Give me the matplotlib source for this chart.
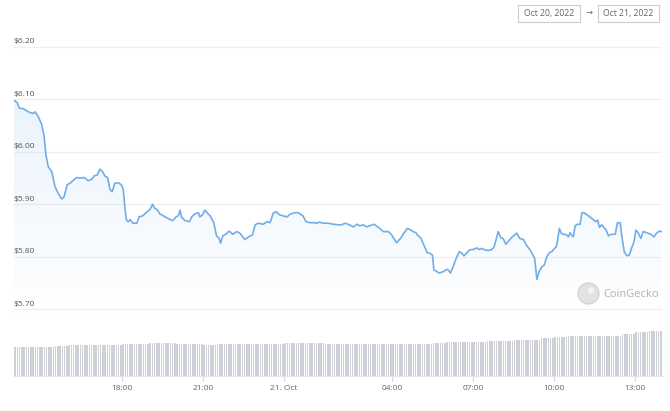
import numpy as np
import matplotlib
matplotlib.use('Agg')
import matplotlib.pyplot as plt
import matplotlib.dates as mdates
from matplotlib.patches import Rectangle, Circle
from matplotlib.transforms import IdentityTransform
from datetime import datetime, timedelta

plt.rcParams['font.family'] = ['Open Sans', 'DejaVu Sans']

start = datetime(2022, 10, 20, 14, 0)

# minutes after 14:00 Oct 20, price in USD
t_min = [0, 7, 12, 21, 32, 42, 47, 54, 62, 67, 71, 76, 84, 91, 98, 106, 111, 118, 124, 132,
         139, 147, 156, 165, 173, 178, 185, 191, 197, 202, 208, 213, 218, 224, 232, 239,
         243, 247, 250, 254, 258, 264, 273, 278, 286, 293, 302, 308, 313, 318, 324, 336, 347, 353,
         360, 365, 369, 372, 380, 390, 395, 402, 410, 413, 419, 424, 430, 436, 444, 450, 456, 459,
         464, 471, 478, 486, 495, 502, 513, 521,
         530, 536, 543, 554, 562, 569, 576, 582, 590, 598, 607, 613, 624, 632, 642, 649, 658, 667,
         673, 678, 687, 698, 710, 721, 728, 736, 745, 754, 762, 769, 776, 784, 790, 800, 810,
         821, 832, 839, 850, 859, 867, 874, 880, 887, 893, 898, 904, 911, 918, 924, 930, 933, 938,
         945, 954, 962, 965, 970, 976, 984, 990, 995, 1000, 1007, 1012, 1021, 1028, 1034, 1039,
         1047, 1054, 1062, 1067, 1071, 1076, 1082, 1087, 1093, 1098, 1104, 1110, 1117,
         1124, 1132, 1139, 1147, 1154, 1157, 1162, 1167, 1173, 1178, 1184, 1190, 1195, 1199, 1205,
         1208, 1212, 1216, 1221, 1228, 1232, 1236, 1239, 1243, 1247, 1252, 1258, 1262, 1267, 1273,
         1280, 1287, 1293, 1297, 1301, 1306, 1311, 1316, 1321, 1328, 1336, 1341, 1347, 1351, 1356,
         1362, 1367, 1373, 1378, 1382, 1387, 1393, 1398, 1406, 1415, 1422, 1428, 1434, 1439]

price = [6.098, 6.094, 6.083, 6.082, 6.076, 6.073, 6.076, 6.067, 6.051, 6.029, 5.994, 5.972,
         5.962, 5.934, 5.921, 5.910, 5.914, 5.937, 5.940, 5.946, 5.951, 5.950, 5.951, 5.945,
         5.948, 5.954, 5.956, 5.967, 5.962, 5.954, 5.951, 5.929, 5.924, 5.940, 5.941, 5.937,
         5.927, 5.889, 5.870, 5.867, 5.871, 5.864, 5.864, 5.876, 5.878, 5.884, 5.890, 5.900,
         5.892, 5.890, 5.882, 5.876, 5.871, 5.869, 5.876, 5.878, 5.889, 5.876, 5.869, 5.867,
         5.876, 5.882, 5.884, 5.876, 5.880, 5.889, 5.883, 5.878, 5.865, 5.840, 5.835, 5.826,
         5.840, 5.843, 5.849, 5.843, 5.848, 5.845, 5.833, 5.838,
         5.842, 5.861, 5.864, 5.862, 5.867, 5.865, 5.883, 5.886, 5.880, 5.878, 5.876, 5.881,
         5.884, 5.884, 5.878, 5.867, 5.865, 5.865, 5.864, 5.866, 5.864, 5.864, 5.862, 5.861,
         5.861, 5.864, 5.861, 5.857, 5.862, 5.859, 5.861, 5.857, 5.859, 5.862, 5.856,
         5.848, 5.848, 5.842, 5.827, 5.835, 5.846, 5.854, 5.852, 5.848, 5.846, 5.840, 5.836,
         5.822, 5.808, 5.807, 5.803, 5.775, 5.773, 5.769, 5.772, 5.776, 5.775, 5.769, 5.782,
         5.800, 5.810, 5.807, 5.802, 5.808, 5.813, 5.814, 5.817, 5.814, 5.816, 5.813, 5.812,
         5.814, 5.819, 5.832, 5.848, 5.836, 5.835, 5.824, 5.829, 5.835, 5.840, 5.845,
         5.835, 5.833, 5.822, 5.813, 5.802, 5.797, 5.757, 5.772, 5.781, 5.784, 5.800, 5.808,
         5.810, 5.814, 5.819, 5.832, 5.854, 5.845, 5.843, 5.842, 5.838, 5.846, 5.842, 5.838,
         5.859, 5.862, 5.862, 5.884, 5.884, 5.880, 5.876, 5.871, 5.867, 5.870, 5.856, 5.861,
         5.856, 5.851, 5.840, 5.843, 5.843, 5.865, 5.865, 5.838, 5.810, 5.802, 5.803, 5.818,
         5.829, 5.851, 5.846, 5.835, 5.848, 5.846, 5.843, 5.838, 5.845, 5.849, 5.848]

# volume read per half hour (relative units), each shown as six 5-minute bars
vol_half_hour = [29, 29, 29.5, 30, 31, 31.3, 31.3, 31.3, 31.8, 32.3, 32.6, 32.6,
                 32, 32, 31.5, 32.5, 32, 32, 32, 32, 32.6, 32.6, 32.6, 32,
                 32, 32, 32, 32, 32, 32, 32, 33, 34.5, 34.5, 34.5, 35.5,
                 35.5, 36.5, 36.5, 38.5, 39, 40.3, 40.3, 40.3, 40.3, 42, 44.5, 45]

y_ticks = [5.70, 5.80, 5.90, 6.00, 6.10, 6.20]
x_ticks = ['2022-10-20 18:00', '2022-10-20 21:00', '2022-10-21 00:00',
           '2022-10-21 04:00', '2022-10-21 07:00', '2022-10-21 10:00', '2022-10-21 13:00']
x_labels = ['18:00', '21:00', '21. Oct', '04:00', '07:00', '10:00', '13:00']

times = [start + timedelta(minutes=m) for m in t_min]
bar_times = [start + timedelta(minutes=5 * k + 2.5) for k in range(288)]
bar_vol = np.repeat(vol_half_hour, 6)
x0, x1 = mdates.date2num(start), mdates.date2num(start + timedelta(hours=24))

fig = plt.figure(figsize=(6.7, 4.11), dpi=100)
box = [14 / 670, 35 / 411, 648 / 670, 346 / 411]

axv = fig.add_axes(box)
axv.bar(bar_times, bar_vol, width=5 / 1440 * 0.72, color='#cdd1d7', linewidth=0)
axv.set_xlim(x0, x1)
axv.set_ylim(0, 346)
axv.axis('off')

ax = fig.add_axes(box)
ax.patch.set_alpha(0)
ax.set_xlim(x0, x1)
ax.set_ylim(5.573, 6.232)

for v in y_ticks:
    ax.axhline(v, color='#efefef', lw=0.8, zorder=0)
    ax.annotate(f'${v:.2f}', xy=(0, v), xycoords=('axes fraction', 'data'),
                xytext=(0, 1.2), textcoords='offset points', ha='left', va='bottom',
                fontsize=6, color='#555555')

base = 5.68
poly = ax.fill_between(times, price, base, color='none', lw=0)
grad = np.zeros((256, 1, 4))
grad[:, 0, 0] = 124 / 255
grad[:, 0, 1] = 181 / 255
grad[:, 0, 2] = 236 / 255
grad[:, 0, 3] = np.linspace(0.16, 0.0, 256)
img = ax.imshow(grad, aspect='auto', extent=[x0, x1, base, max(price)], origin='upper', zorder=1)
img.set_clip_path(poly.get_paths()[0], transform=ax.transData)
ax.set_xlim(x0, x1)
ax.set_ylim(5.573, 6.232)

ax.plot(times, price, color='#72ade8', lw=1.2, zorder=3)

ax.set_xticks([mdates.date2num(datetime.strptime(s, '%Y-%m-%d %H:%M')) for s in x_ticks])
ax.set_xticklabels(x_labels)
ax.tick_params(axis='x', length=3.8, width=0.8, color='#ccd6eb', labelsize=6,
               labelcolor='#666666', pad=3)
ax.tick_params(axis='y', left=False, labelleft=False)
for s in ['top', 'right', 'left']:
    ax.spines[s].set_visible(False)
ax.spines['bottom'].set_color('#e6e6e6')
ax.spines['bottom'].set_linewidth(0.8)

# date range boxes
H = 411
ident = IdentityTransform()
fig.patches.append(Rectangle((518, H - 22), 62, 17, transform=ident, fill=False,
                             edgecolor='#cccccc', lw=0.8))
fig.patches.append(Rectangle((598, H - 22), 61, 17, transform=ident, fill=False,
                             edgecolor='#cccccc', lw=0.8))
fig.text(549 / 670, 1 - 13.5 / H, 'Oct 20, 2022', ha='center', va='center', fontsize=6.2, color='#666666')
fig.text(589 / 670, 1 - 13.5 / H, '→', ha='center', va='center', fontsize=6, color='#666666')
fig.text(628.5 / 670, 1 - 13.5 / H, 'Oct 21, 2022', ha='center', va='center', fontsize=6.2, color='#666666')

# CoinGecko watermark
fig.patches.append(Circle((588.5, H - 293.5), 10.5, transform=ident, facecolor='#e2e2e2',
                          edgecolor='#d0d0d0', lw=0.8))
fig.patches.append(Circle((591, H - 290.5), 3.2, transform=ident, facecolor='#f4f4f4', lw=0))
fig.text(603 / 670, 1 - 294 / H, 'CoinGecko', ha='left', va='center', fontsize=8, color='#b3b3b3')

fig.savefig('out.png', dpi=100)
